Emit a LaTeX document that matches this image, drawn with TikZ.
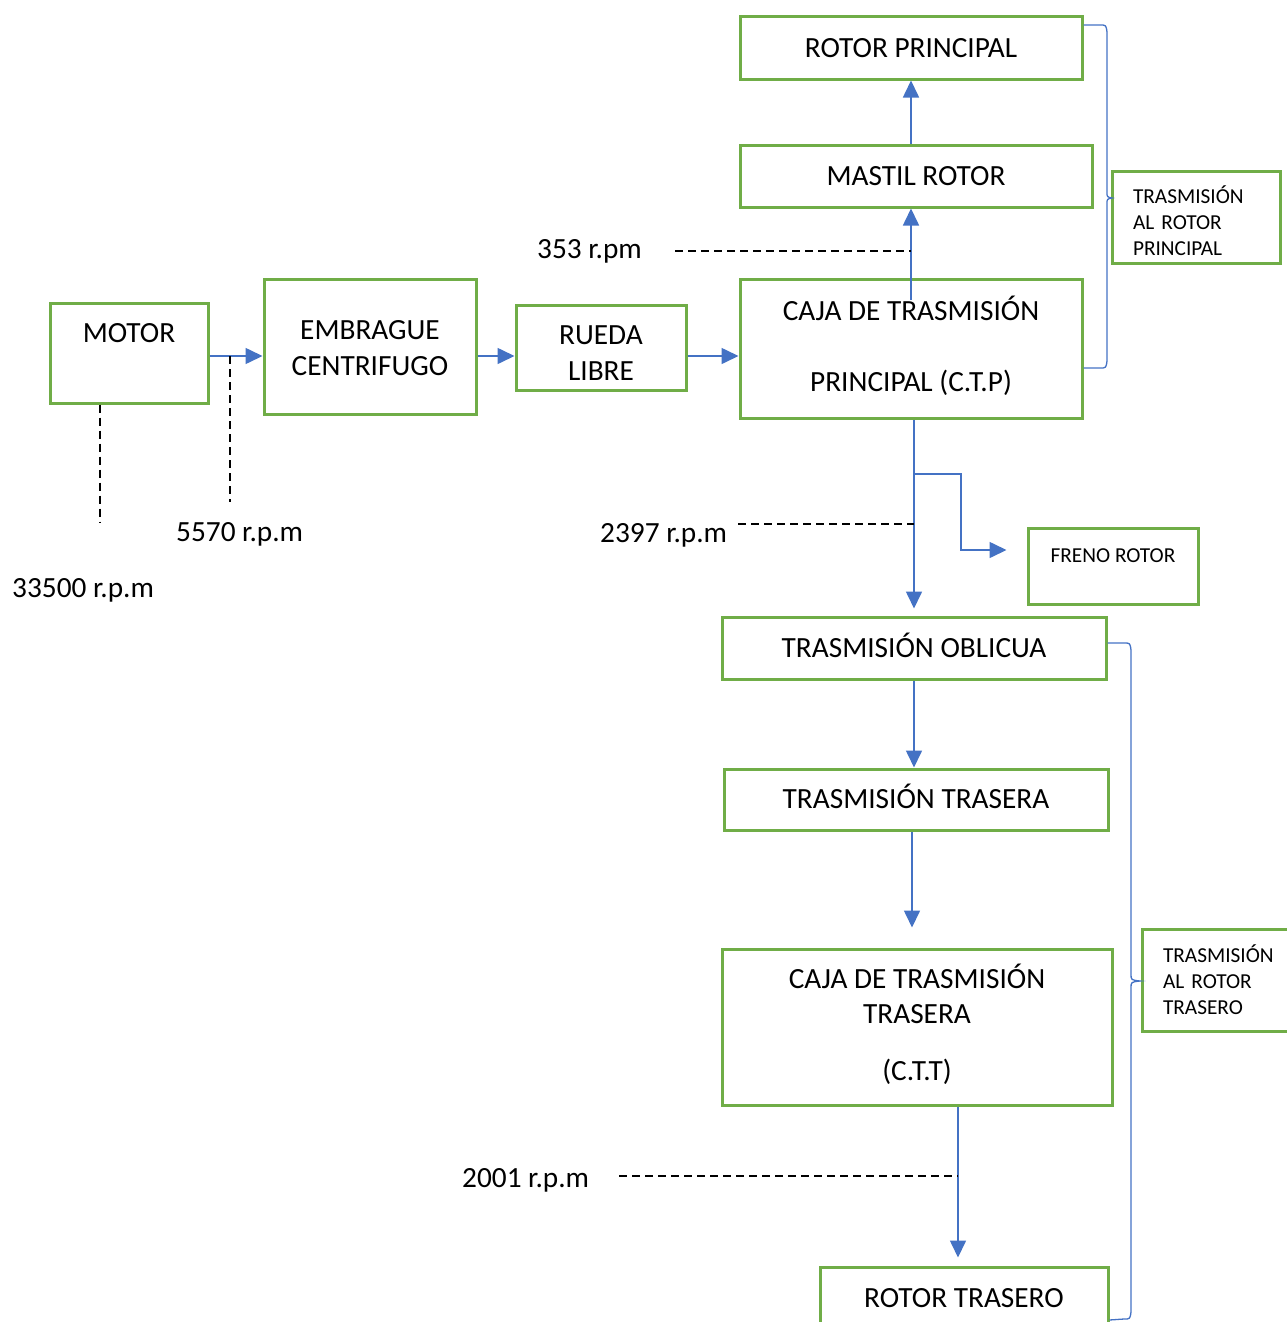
\documentclass[tikz,border=0pt]{standalone}
\usepackage{fontspec}
\setmainfont{Carlito}
\usepackage{tikz}
\usetikzlibrary{arrows.meta,positioning,calc}
\definecolor{hgreen}{HTML}{70AD47}
\definecolor{hblue}{HTML}{4472C4}
\newcommand{\bigfont}{\fontsize{29.3pt}{35.7pt}\selectfont}
\newcommand{\smallfont}{\fontsize{21.3pt}{26pt}\selectfont}
\tikzset{
  blk/.style={draw=hgreen,line width=3pt,fill=white,align=center,inner sep=0pt,font=\bigfont},
  note/.style={blk,align=left,font=\smallfont,inner xsep=21pt,text width=126pt,minimum width=168pt},
  ar/.style={-{Triangle[length=17pt,width=16pt]},draw=hblue,line width=1.6pt},
  rpm/.style={draw=black,line width=1.6pt,dash pattern=on 8pt off 5pt},
  brc/.style={draw=hblue,line width=1.3pt},
  lbl/.style={inner sep=0pt,anchor=base west,font=\bigfont},
}

\begin{document}
\begin{tikzpicture}[x=1pt,y=-1pt,font=\bigfont]
  \useasboundingbox (0,0) rectangle (1286,1322);
  % cadena del motor
  \node[blk,minimum width=158pt,minimum height=100pt,text depth=40pt] (motor) at (129,353) {MOTOR};
  \node[blk,minimum width=212pt,minimum height=135pt] (emb) at (370,346.5) {\rule{0pt}{22pt}EMBRAGUE\\CENTRIFUGO};
  \node[blk,minimum width=170pt,minimum height=85pt] (rueda) at (601,347.5) {\rule{0pt}{30pt}RUEDA\\LIBRE};
  \node[blk,minimum width=342pt,minimum height=139pt] (ctp) at (911,348.5) {CAJA DE TRASMISI\smash{Ó}N\\[36pt]PRINCIPAL (C.T.P)};
  \node[blk,minimum width=352pt,minimum height=62pt] (mastil) at (916,176) {MASTIL ROTOR};
  \node[blk,minimum width=342pt,minimum height=62pt] (rp) at (911,48) {ROTOR PRINCIPAL};
  \node[blk,font=\smallfont,minimum width=170pt,minimum height=76pt,text depth=20pt] (freno) at (1113,566) {FRENO ROTOR};
  % rama trasera
  \node[blk,minimum width=384pt,minimum height=62pt] (obl) at (914,648) {TRASMISI\smash{Ó}N OBLICUA};
  \node[blk,minimum width=384pt,minimum height=61pt] (tra) at (916,799.5) {TRASMISI\smash{Ó}N TRASERA};
  \node[blk,minimum width=390pt,minimum height=156pt] (ctt) at (917,1027) {CAJA DE TRASMISI\smash{Ó}N\\TRASERA\\[21pt](C.T.T)};
  \node[blk,minimum width=288pt,minimum height=62pt] (rt) at (964,1298) {ROTOR TRASERO};
  \node[note,minimum height=92pt] (tarp) at (1196,217) {\rule{0pt}{26pt}TRASMISIÓN\\AL ROTOR\\PRINCIPAL};
  \node[note,minimum height=102pt] (tart) at (1226,980) {TRASMISIÓN\\AL ROTOR\\TRASERO};

  \draw[ar] (motor.east |- 0,356) -- (emb.west |- 0,356);
  \draw[ar] (emb.east |- 0,356) -- (rueda.west |- 0,356);
  \draw[ar] (rueda.east |- 0,356) -- (ctp.west |- 0,356);
  \draw[ar] (ctp.north |- 0,300) -- (mastil.south -| ctp.north);
  \draw[ar] (mastil.north -| ctp.north) -- (rp.south);
  \draw[ar,shorten >=7pt] (ctp.south -| obl.north) -- (obl.north);
  \draw[ar] (obl.south) -- (tra.north -| obl.south);
  \draw[ar,shorten >=20pt] (tra.south -| 912,0) -- (ctt.north -| 912,0);
  \draw[ar,shorten >=8pt] (ctt.south -| 958,0) -- (rt.north -| 958,0);
  \coordinate (brk) at (914,474);
  \draw[ar,shorten >=20pt] (brk) -- ++(47,0) |- ([yshift=16pt]freno.west);

  % velocidades
  \node[lbl] (l353) at (537,258) {353 r.pm};
  \node[lbl] (l2397) at (600,542) {2397 r.p.m};
  \node[lbl] (l2001) at (462,1187) {2001 r.p.m};
  \node[lbl] (l5570) at (176,541) {5570 r.p.m};
  \node[lbl] (l33500) at (12,597) {33500 r.p.m};
  \coordinate (d353) at (675,251);
  \draw[rpm] (d353) -- (d353 -| ctp.north);
  \coordinate (d2397) at (738,524);
  \draw[rpm] (d2397) -- (d2397 -| obl.north);
  \coordinate (d2001) at (619,1176);
  \draw[rpm] (d2001) -- (d2001 -| 958,0);
  \coordinate (d5570) at (230,502);
  \draw[rpm] (d5570 |- 0,356) -- (d5570);
  \coordinate (d33500) at (100,522);
  \draw[rpm] (d33500 |- motor.south) -- (d33500);

  % llaves
  \draw[brc] (rp.east |- 0,25) -- (1100,25) .. controls (1106,25) .. (1107,32) -- (1107,192)
    .. controls (1107,197) .. (1112,198) .. controls (1107,199) .. (1107,204) -- (1107,361)
    .. controls (1106,368) .. (1100,368) -- (ctp.east |- 0,368);
  \draw[brc] (obl.east |- 0,643) -- (1124,643) .. controls (1130,643) .. (1131,650) -- (1131,974)
    .. controls (1131,980) .. (1140,981) .. controls (1131,982) .. (1131,988) -- (1131,1312)
    .. controls (1130,1319) .. (1124,1319) -- (rt.east |- 0,1320);
\end{tikzpicture}
\end{document}
